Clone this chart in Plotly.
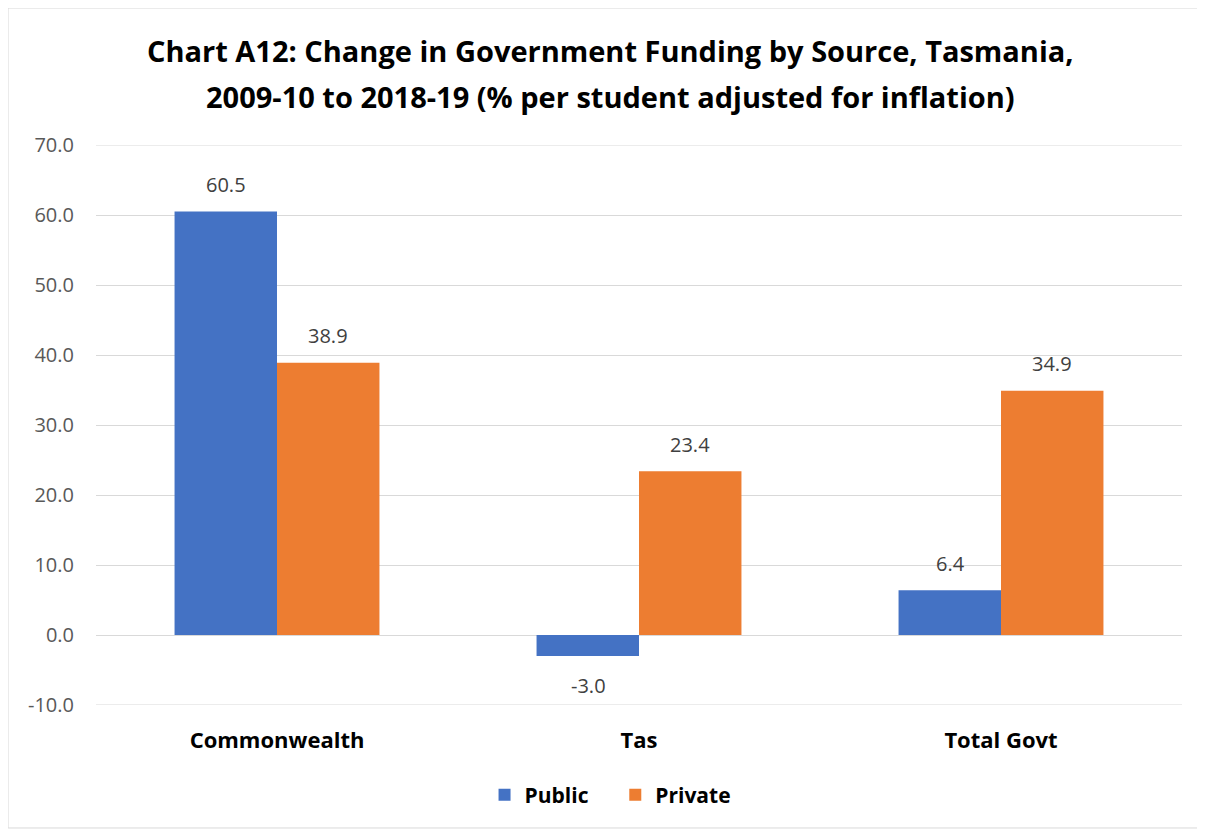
import plotly.graph_objects as go

categories = ['Commonwealth', 'Tas', 'Total Govt']
public_vals = [60.5, -3.0, 6.4]
private_vals = [38.9, 23.4, 34.9]
tick_vals = [-10, 0, 10, 20, 30, 40, 50, 60, 70]
tick_text = ['%.1f' % v for v in tick_vals]

font_family = 'Open Sans, Liberation Sans, sans-serif'
mid = 0.4738  # horizontal centre of the whole figure, in paper units

fig = go.Figure()
fig.add_trace(go.Bar(x=categories, y=public_vals, name='<b>Public</b>    ',
                     marker_color='#4472c4', marker_line_width=0))
fig.add_trace(go.Bar(x=categories, y=private_vals, name='<b>Private</b>',
                     marker_color='#ed7d31', marker_line_width=0))

# data labels placed a little off the bar ends, like the original
annos = []
for vals, shift in [(public_vals, -51), (private_vals, 51)]:
    for cat, v in zip(categories, vals):
        annos.append(dict(x=cat, y=v, xref='x', yref='y', text='%.1f' % v,
                          showarrow=False, xshift=shift,
                          yshift=27 if v >= 0 else -29, yanchor='middle',
                          font=dict(size=20, color='#404040')))

annos.append(dict(text='<b>Chart A12: Change in Government Funding by Source, Tasmania,</b>',
                  x=mid, y=1.1696, xref='paper', yref='paper', showarrow=False,
                  yanchor='middle', font=dict(size=29, color='black')))
annos.append(dict(text='<b>2009-10 to 2018-19 (% per student adjusted for inflation)</b>',
                  x=mid, y=1.0875, xref='paper', yref='paper', showarrow=False,
                  yanchor='middle', font=dict(size=29, color='black')))

# gridlines at the range ends (plotly skips those)
edge_lines = [dict(type='line', xref='paper', yref='y', x0=0, x1=1, y0=v, y1=v,
                   line=dict(color='#d9d9d9', width=1), layer='below')
              for v in (tick_vals[0], tick_vals[-1])]

fig.update_layout(
    width=1205, height=830,
    margin=dict(l=88, r=31, t=137, b=133),
    plot_bgcolor='white', paper_bgcolor='white',
    font=dict(family=font_family, color='#404040'),
    bargap=0.434, bargroupgap=0,
    legend=dict(orientation='h', x=mid, xanchor='center', y=-0.1607, yanchor='middle',
                font=dict(size=21, color='black'), traceorder='normal',
                itemwidth=30),
    annotations=annos,
    shapes=edge_lines + [dict(type='rect', xref='paper', yref='paper', x0=-0.081, x1=1.0166,
                              y0=-0.2196, y1=1.2446, line=dict(color='#d9d9d9', width=1))],
)
fig.update_yaxes(range=[-10, 70], tickvals=tick_vals, ticktext=tick_text,
                 showgrid=True, gridcolor='#d9d9d9', zeroline=True, zerolinecolor='#d9d9d9',
                 zerolinewidth=1, tickfont=dict(size=20, color='#595959'),
                 ticks='', showline=False, ticklabelstandoff=21)
fig.update_xaxes(tickfont=dict(size=22, color='black'), showline=False, ticks='',
                 tickprefix='<b>', ticksuffix='</b>', ticklabelstandoff=20)

fig.write_html('out.html')
